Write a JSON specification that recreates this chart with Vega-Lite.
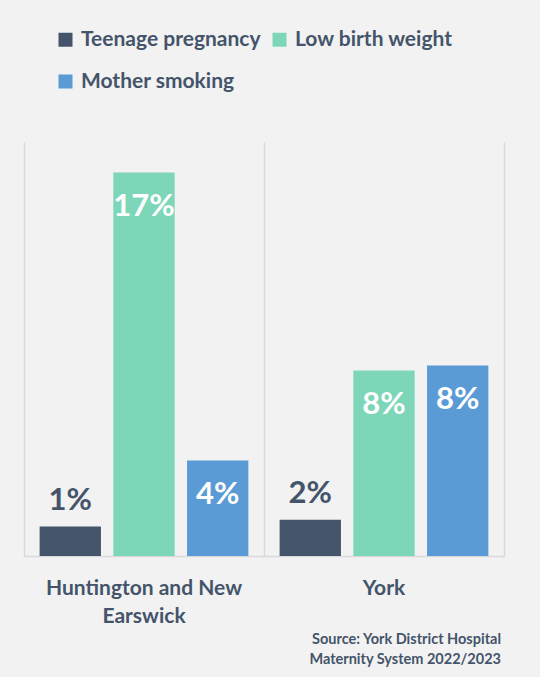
{
  "$schema": "https://vega.github.io/schema/vega-lite/v6.json",
  "width": 480,
  "height": 414,
  "autosize": {"type": "none"},
  "padding": {"left": 24, "top": 142, "right": 36, "bottom": 121},
  "background": "#f2f2f2",
  "config": {"view": {"stroke": null}},
  "data": {
    "values": [
      {"area": "Huntington and New Earswick", "indicator": "Teenage pregnancy", "value": 1.28, "label": "1%"},
      {"area": "Huntington and New Earswick", "indicator": "Low birth weight", "value": 16.67, "label": "17%"},
      {"area": "Huntington and New Earswick", "indicator": "Mother smoking", "value": 4.15, "label": "4%"},
      {"area": "York", "indicator": "Teenage pregnancy", "value": 1.58, "label": "2%"},
      {"area": "York", "indicator": "Low birth weight", "value": 8.06, "label": "8%"},
      {"area": "York", "indicator": "Mother smoking", "value": 8.28, "label": "8%"}
    ]
  },
  "encoding": {
    "x": {
      "field": "area",
      "type": "nominal",
      "sort": null,
      "scale": {"paddingInner": 0, "paddingOuter": 0},
      "axis": {
        "title": null,
        "labelAngle": 0,
        "domainColor": "#d9d9d9",
        "domainWidth": 1.5,
        "ticks": false,
        "grid": true,
        "gridColor": "#d9d9d9",
        "gridWidth": 1.5,
        "bandPosition": 0,
        "labelFont": "Lato",
        "labelFontSize": 21,
        "labelFontWeight": "bold",
        "labelColor": "#44546a",
        "labelPadding": 21,
        "labelLineHeight": 28,
        "labelBaseline": "top",
        "labelLimit": 400,
        "labelOverlap": false,
        "labelExpr": "datum.label == 'Huntington and New Earswick' ? ['Huntington and New', 'Earswick'] : datum.label"
      }
    },
    "xOffset": {
      "field": "indicator",
      "sort": ["Teenage pregnancy", "Low birth weight", "Mother smoking"],
      "scale": {"paddingInner": 0.168, "paddingOuter": 0.212}
    },
    "y": {
      "field": "value",
      "type": "quantitative",
      "scale": {"domain": [0, 18]},
      "axis": {
        "orient": "right",
        "grid": false,
        "labels": false,
        "ticks": false,
        "title": null,
        "domainColor": "#d9d9d9",
        "domainWidth": 1.5
      }
    }
  },
  "layer": [
    {
      "mark": {"type": "bar"},
      "encoding": {
        "color": {
          "field": "indicator",
          "type": "nominal",
          "sort": ["Teenage pregnancy", "Low birth weight", "Mother smoking"],
          "scale": {
            "domain": ["Teenage pregnancy", "Low birth weight", "Mother smoking"],
            "range": ["#44546a", "#7ed6b9", "#5b9bd5"]
          },
          "legend": {
            "orient": "none",
            "legendX": 31,
            "legendY": -113,
            "direction": "horizontal",
            "columns": 2,
            "title": null,
            "symbolType": "square",
            "symbolSize": 196,
            "symbolStrokeWidth": 0,
            "symbolOpacity": 1,
            "labelFont": "Lato",
            "labelFontSize": 21,
            "labelFontWeight": "bold",
            "labelColor": "#44546a",
            "labelOffset": 5,
            "columnPadding": 8,
            "rowPadding": 20,
            "labelLimit": 400
          }
        }
      }
    },
    {
      "transform": [{"filter": "datum.value > 3"}],
      "mark": {"type": "text", "baseline": "alphabetic", "dy": 43, "color": "#ffffff", "font": "Lato", "fontSize": 31, "fontWeight": "bold"},
      "encoding": {"text": {"field": "label"}}
    },
    {
      "transform": [{"filter": "datum.value <= 3"}],
      "mark": {"type": "text", "baseline": "alphabetic", "dy": -17, "color": "#44546a", "font": "Lato", "fontSize": 31, "fontWeight": "bold"},
      "encoding": {"text": {"field": "label"}}
    }
  ],
  "title": {
    "text": ["Source: York District Hospital", "Maternity System 2022/2023"],
    "orient": "bottom",
    "anchor": "end",
    "font": "Lato",
    "fontSize": 14.5,
    "fontWeight": "bold",
    "color": "#44546a",
    "lineHeight": 20,
    "offset": 7,
    "dx": -3
  }
}
